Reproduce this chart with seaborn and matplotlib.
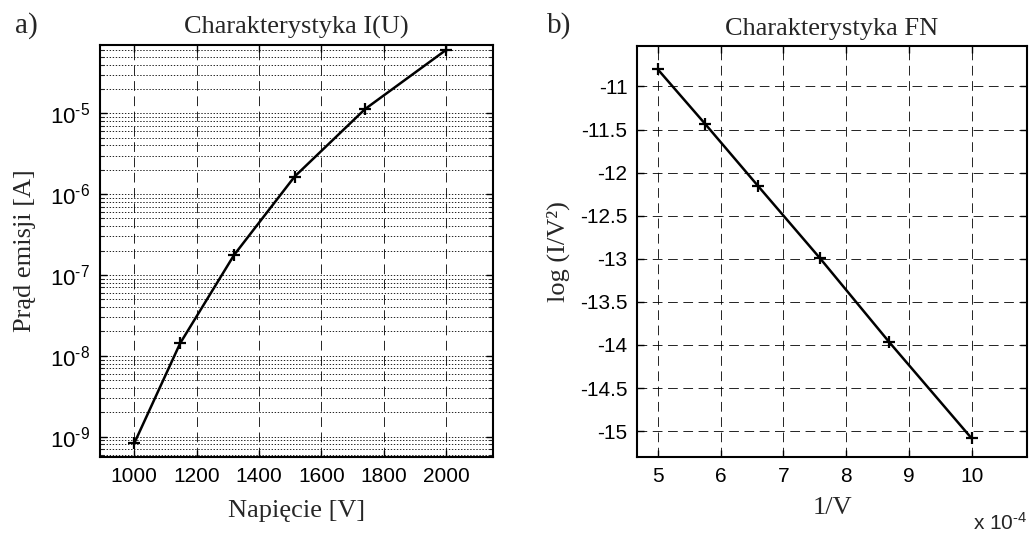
import numpy as np
import pandas as pd
import matplotlib
matplotlib.use("Agg")
import matplotlib.pyplot as plt
import seaborn as sns
from matplotlib.ticker import LogLocator, FixedLocator, NullFormatter, FuncFormatter

# ---- data ----
voltage = [1000, 1147, 1320, 1514, 1740, 2000]                 # V
current = [8.3e-10, 1.43e-8, 1.77e-7, 1.65e-6, 1.13e-5, 6.1e-5]  # A
inv_voltage = [5.0, 5.75, 6.6, 7.58, 8.69, 10.0]                # 1/V  (x 1e-4)
fn_values = [-10.80, -11.43, -12.157, -12.99, -13.97, -15.085]  # log(I/V^2)

x_ticks_a = [1000, 1200, 1400, 1600, 1800, 2000]
x_ticks_b = [5, 6, 7, 8, 9, 10]
y_ticks_b = [-11, -11.5, -12, -12.5, -13, -13.5, -14, -14.5, -15]
y_tick_labels_b = ["-11", "-11.5", "-12", "-12.5", "-13", "-13.5", "-14", "-14.5", "-15"]

df_a = pd.DataFrame({"U": voltage, "I": current})
df_b = pd.DataFrame({"invU": inv_voltage, "fn": fn_values})

sns.set_style("ticks")
plt.rcParams["font.family"] = ["Liberation Sans", "DejaVu Sans"]
plt.rcParams["mathtext.fontset"] = "custom"
plt.rcParams["mathtext.rm"] = "Liberation Sans"
plt.rcParams["mathtext.it"] = "Liberation Sans:italic"
plt.rcParams["mathtext.bf"] = "Liberation Sans:bold"
plt.rcParams["lines.scale_dashes"] = False

W, H = 1029, 540
fig = plt.figure(figsize=(W / 100, H / 100), dpi=100)
ax1 = fig.add_axes([100 / W, (H - 457) / H, 393 / W, 412 / H])
ax2 = fig.add_axes([637 / W, (H - 457) / H, 390 / W, 411 / H])

serif = ["Liberation Serif", "DejaVu Serif"]
line_kw = dict(color="k", linewidth=1.8, marker="+", markersize=8,
               markeredgewidth=1.6, markeredgecolor="k", sort=False,
               estimator=None, legend=False)

# ---- panel a ----
sns.lineplot(data=df_a, x="U", y="I", ax=ax1, **line_kw)
ax1.set_yscale("log")
ax1.set_xlim(890, 2150)
ax1.set_ylim(5.6e-10, 7e-5)
ax1.xaxis.set_major_locator(FixedLocator(x_ticks_a))
ax1.yaxis.set_major_locator(LogLocator(base=10, numticks=100))
ax1.yaxis.set_minor_locator(LogLocator(base=10, subs=np.arange(2, 10), numticks=100))
ax1.yaxis.set_minor_formatter(NullFormatter())
ax1.yaxis.set_major_formatter(FuncFormatter(
    lambda v, p: r"10$^{\text{-%d}}$" % abs(int(round(np.log10(v))))))
ax1.grid(True, which="major", axis="x", linestyle=(0, (7, 4)), color="k", linewidth=0.6)
ax1.grid(True, which="both", axis="y", linestyle=(0, (1, 1.2)), color="k", linewidth=0.6)
ax1.set_title("Charakterystyka I(U)", family=serif, fontsize=19, pad=8)
ax1.set_xlabel("Napięcie [V]", family=serif, fontsize=19, va="top")
ax1.set_ylabel("Prąd emisji [A]", family=serif, fontsize=19)
ax1.xaxis.set_label_coords(0.5, -0.104)
ax1.yaxis.set_label_coords(-0.162, 0.5)

# ---- panel b ----
sns.lineplot(data=df_b, x="invU", y="fn", ax=ax2, **line_kw)
ax2.set_xlim(4.67, 10.88)
ax2.set_ylim(-15.3, -10.53)
ax2.xaxis.set_major_locator(FixedLocator(x_ticks_b))
ax2.set_xticklabels([str(v) for v in x_ticks_b])
ax2.yaxis.set_major_locator(FixedLocator(y_ticks_b))
ax2.set_yticklabels(y_tick_labels_b)
ax2.grid(True, which="major", axis="both", linestyle=(0, (7, 4)), color="k", linewidth=0.6)
ax2.set_title("Charakterystyka FN", family=serif, fontsize=19, pad=8)
ax2.set_xlabel("1/V", family=serif, fontsize=19, va="top")
ax2.set_ylabel("log (I/V²)", family=serif, fontsize=19)
ax2.xaxis.set_label_coords(0.5, -0.098)
ax2.yaxis.set_label_coords(-0.171, 0.5)
fig.text(973 / W, 6 / H, r"x 10$^{\text{-4}}$", fontsize=15, ha="left", va="bottom")

for ax in (ax1, ax2):
    for s in ax.spines.values():
        s.set_linewidth(1.5)
        s.set_color("k")
        s.set_visible(True)
    ax.tick_params(which="major", direction="in", length=5, width=1, top=True,
                   right=True, labelsize=15, pad=7, colors="k")
    ax.tick_params(which="minor", direction="in", length=3, width=0.8, top=True,
                   right=True)
    ax.set_facecolor("white")
ax1.tick_params(axis="y", which="major", labelsize=16)

fig.text(15 / W, 1 - 26 / H, "a)", family=serif, fontsize=21, ha="left", va="center")
fig.text(547 / W, 1 - 26 / H, "b)", family=serif, fontsize=21, ha="left", va="center")

fig.savefig("out.png", dpi=100, facecolor="white")
